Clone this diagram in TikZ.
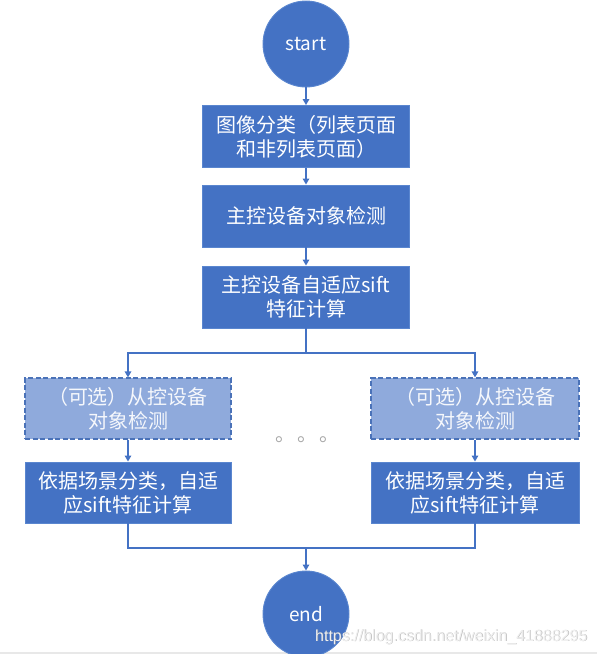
\documentclass[tikz,border=0pt]{standalone}
\usepackage{fontspec}
\setmainfont{Noto Sans CJK SC}
\newfontfamily\wmfont{Liberation Sans}
\usetikzlibrary{arrows.meta}
\definecolor{mainblue}{HTML}{4472C4}
\definecolor{lightblue}{HTML}{8FAADC}
\definecolor{edgeblue}{HTML}{5A86CF}
\definecolor{dashedge}{HTML}{4A72B8}
\tikzset{
  procbox/.style={draw=edgeblue, line width=0.9pt, fill=mainblue, text=white,
    minimum width=207pt, minimum height=62pt, inner sep=0pt, align=center,
    font=\fontsize{20}{24}\selectfont},
  optbox/.style={procbox, draw=dashedge, line width=1.2pt, fill=lightblue, dash pattern=on 5pt off 2.5pt,
    text=white!92!lightblue},
  termnode/.style={circle, draw=edgeblue, line width=0.9pt, fill=mainblue, text=white,
    minimum size=86pt, inner sep=0pt, font=\fontsize{19}{20}\selectfont},
  conn/.style={draw=mainblue, line width=2pt},
  arr/.style={conn, -{Triangle[length=6pt,width=6.5pt]}},
}
\begin{document}
\begin{tikzpicture}[x=1pt,y=-1pt]
\useasboundingbox (0,0) rectangle (597,654);
\fill[gray!18] (0,651.5) rectangle (597,654);
\node[termnode] (start) at (306,44) {start};
\node[procbox] (b1) at (306,136.5) {图像分类（列表页面\\和非列表页面）};
\node[procbox] (b2) at (306,216) {主控设备对象检测};
\node[procbox] (b3) at (306,297) {主控设备自适应sift\\特征计算};
\node[optbox, minimum width=206pt, minimum height=61pt] (ld) at (128,408.5) {（可选）从控设备\\对象检测};
\node[procbox, minimum width=206pt, minimum height=61pt] (lb) at (128,492.5) {依据场景分类，自适\\应sift特征计算};
\node[optbox, minimum width=208pt, minimum height=61pt] (rd) at (475,408.5) {（可选）从控设备\\对象检测};
\node[procbox, minimum width=208pt, minimum height=61pt] (rb) at (475,492.5) {依据场景分类，自适\\应sift特征计算};
\node[termnode] (end) at (306,614) {end};
\node[text=gray!70, font=\fontsize{20}{20}\selectfont, inner sep=0pt] (dots) at (307,440) {。\hspace{2pt}。\hspace{2pt}。};
\coordinate (bc) at (306,353);
\coordinate (mc) at (306,548);
\draw[arr] (start) -- (b1);
\draw[arr] (b1) -- (b2);
\draw[arr] (b2) -- (b3);
\draw[conn] (b3.south) -- (bc);
\draw[arr] (bc) -| (ld.north);
\draw[arr] (bc) -| (rd.north);
\draw[arr] (ld) -- (lb);
\draw[arr] (rd) -- (rb);
\draw[conn] (lb.south) |- (mc);
\draw[conn] (rb.south) |- (mc);
\draw[arr] (mc) -- (end.north);
\node[anchor=base west, inner sep=0pt, text=black!45, opacity=0.6, font=\wmfont\fontsize{16}{16}\selectfont] (wms) at (315.6,641.6) {https://blog.csdn.net/weixin\_41888295};
\node[anchor=base west, inner sep=0pt, text=white!88!gray, font=\wmfont\fontsize{16}{16}\selectfont] (wm) at (315,641) {https://blog.csdn.net/weixin\_41888295};
\end{tikzpicture}
\end{document}
